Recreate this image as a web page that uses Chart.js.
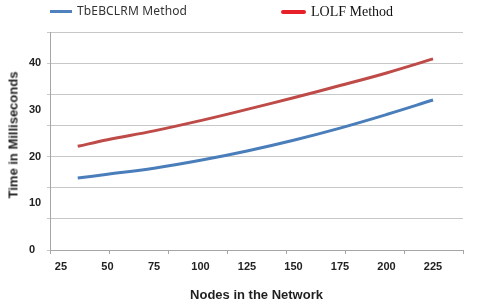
<!DOCTYPE html>
<html>
<head>
<meta charset="utf-8">
<script src="https://cdn.jsdelivr.net/npm/chart.js@4/dist/chart.umd.min.js"></script>
<style>
  html, body { margin: 0; padding: 0; background: #fff; }
  #wrap { position: relative; width: 480px; height: 307px; }
  #chart { position: absolute; left: 0; top: 0; }
  .leg-line { position: absolute; height: 3px; }
  .leg-text { position: absolute; white-space: nowrap; color: #333; }
  #yTitle {
    position: absolute; left: 13px; top: 135px;
    transform: translate(-50%, -50%) rotate(-90deg);
    font: bold 13px "Liberation Sans", Arial, sans-serif; color: #1f1f1f; white-space: nowrap;
  }
</style>
</head>
<body>
<div id="wrap">
  <canvas id="chart" width="480" height="307"></canvas>
  <div class="leg-line" style="left:50px;top:10px;width:22px;background:#4f81bd;"></div>
  <div class="leg-text" id="legBlue" style="left:77px;top:2px;font:12px 'Noto Sans',sans-serif;letter-spacing:0.15px;"></div>
  <div class="leg-line" style="left:281px;top:10px;width:25px;height:4px;border-radius:2px;background:#e8202a;"></div>
  <div class="leg-text" id="legRed" style="left:311px;top:4px;font:14px 'Liberation Serif',serif;color:#111;"></div>
  <div id="yTitle"></div>
</div>
<script>
// ── Data ──
const NODES    = [34, 50, 75, 100, 125, 150, 175, 200, 225];
const TBEBCLRM = [15.4, 16.2, 17.5, 19.2, 21.2, 23.5, 26.1, 29.0, 32.1];
const LOLF     = [22.2, 23.6, 25.5, 27.7, 30.1, 32.6, 35.2, 37.9, 40.9];

const X_LABELS = [25, 50, 75, 100, 125, 150, 175, 200, 225];
const Y_LABELS = [0, 10, 20, 30, 40];
const SERIES_NAMES = ['TbEBCLRM Method', 'LOLF Method'];

// ── Scale setup (the original axis is a bit off, grid and labels don't line up) ──
const X_MIN = 19.1, X_MAX = 241.1, X_MARKS = 7;
const Y_STEP = 20 / 3, Y_LINES = 7;
const Y_MAX = (Y_LINES * 20) / 3;

document.getElementById('legBlue').textContent = SERIES_NAMES[0];
document.getElementById('legRed').textContent = SERIES_NAMES[1];
document.getElementById('yTitle').textContent = 'Time in Milliseconds';

const tickFont = { family: "'Liberation Sans', Arial, sans-serif", size: 11, weight: 'bold' };
const onGrid = v => Math.abs(v / Y_STEP - Math.round(v / Y_STEP)) < 1e-6;

new Chart(document.getElementById('chart').getContext('2d'), {
  type: 'line',
  data: {
    datasets: [{
      label: SERIES_NAMES[0],
      data: NODES.map((x, i) => ({ x, y: TBEBCLRM[i] })),
      borderColor: '#4a7ebb',
      borderWidth: 3,
      pointRadius: 0,
      tension: 0.4,
    }, {
      label: SERIES_NAMES[1],
      data: NODES.map((x, i) => ({ x, y: LOLF[i] })),
      borderColor: '#be4b48',
      borderWidth: 3,
      pointRadius: 0,
      tension: 0.4,
    }]
  },
  options: {
    responsive: false,
    animation: false,
    devicePixelRatio: 1,
    layout: { padding: { left: 29, right: 17, top: 32, bottom: 0 } },
    plugins: { legend: { display: false }, tooltip: { enabled: false } },
    scales: {
      x: {
        type: 'linear',
        min: X_MIN,
        max: X_MAX,
        afterFit: s => { s.height = 57; },
        afterBuildTicks: s => {
          const vals = [...X_LABELS];
          for (let k = 0; k <= X_MARKS; k++) vals.push(X_MIN + k * (X_MAX - X_MIN) / X_MARKS);
          s.ticks = vals.sort((a, b) => a - b).map(value => ({ value }));
        },
        ticks: {
          autoSkip: false,
          maxRotation: 0,
          padding: 6,
          color: '#222',
          font: tickFont,
          callback: v => X_LABELS.includes(v) ? String(v) : '',
        },
        grid: {
          drawOnChartArea: false,
          tickLength: 4,
          tickColor: ctx => X_LABELS.includes(ctx.tick.value) ? 'rgba(0,0,0,0)' : '#a6a6a6',
        },
        border: { color: '#a6a6a6' },
        title: {
          display: true,
          text: 'Nodes in the Network',
          color: '#1f1f1f',
          font: { family: "'Liberation Sans', Arial, sans-serif", size: 13, weight: 'bold' },
          padding: { top: 4, bottom: 4 },
        },
      },
      y: {
        min: 0,
        max: Y_MAX,
        afterFit: s => { s.width = 21; },
        afterBuildTicks: s => {
          const vals = [...Y_LABELS];
          for (let k = 0; k <= Y_LINES; k++) {
            const v = (k * 20) / 3;
            if (!vals.includes(v)) vals.push(v);
          }
          s.ticks = vals.sort((a, b) => a - b).map(value => ({ value }));
        },
        ticks: {
          autoSkip: false,
          crossAlign: 'far',
          color: '#222',
          font: tickFont,
          callback: v => Y_LABELS.includes(v) ? String(v) : '',
        },
        grid: {
          color: ctx => onGrid(ctx.tick.value) ? '#c8c8c8' : 'rgba(0,0,0,0)',
          tickColor: ctx => onGrid(ctx.tick.value) ? '#c8c8c8' : 'rgba(0,0,0,0)',
          tickLength: 3,
          lineWidth: 1,
        },
        border: { color: '#a6a6a6' },
      }
    }
  }
});
</script>
</body>
</html>
